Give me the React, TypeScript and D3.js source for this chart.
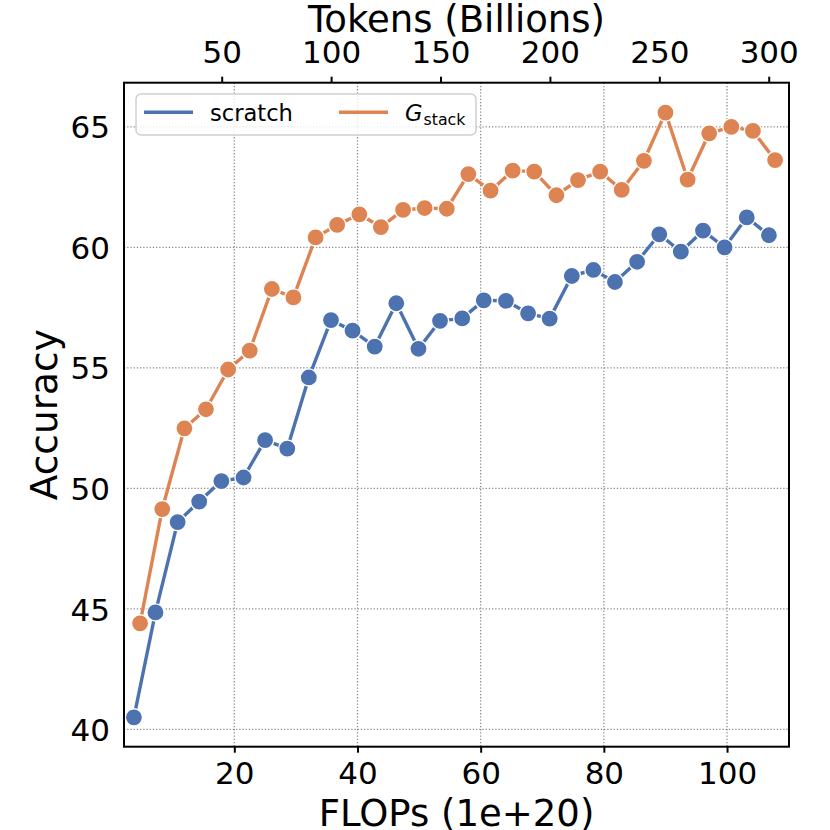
import React, { useEffect, useRef } from "react";
import * as d3 from "d3";

// FLOPs (1e+20) per checkpoint
const scratchFlops = [3.7, 7.2, 10.8, 14.3, 17.9, 21.5, 25.0, 28.6, 32.1, 35.7, 39.2, 42.8, 46.3, 49.9, 53.4, 57.0, 60.5, 64.1, 67.7, 71.2, 74.8, 78.3, 81.8, 85.4, 89.0, 92.5, 96.1, 99.6, 103.2, 106.8];
const scratchAcc = [40.5, 44.85, 48.6, 49.45, 50.3, 50.45, 52.0, 51.65, 54.6, 56.98, 56.54, 55.88, 57.68, 55.79, 56.95, 57.05, 57.8, 57.78, 57.26, 57.04, 58.81, 59.06, 58.56, 59.4, 60.54, 59.82, 60.69, 60.0, 61.24, 60.5];
const stackFlops = [4.7, 8.3, 11.9, 15.4, 19.0, 22.5, 26.1, 29.6, 33.2, 36.7, 40.3, 43.8, 47.4, 50.9, 54.5, 58.0, 61.6, 65.2, 68.7, 72.3, 75.8, 79.4, 82.9, 86.5, 90.0, 93.6, 97.1, 100.7, 104.2, 107.8];
const stackAcc = [44.4, 49.14, 52.49, 53.28, 54.93, 55.71, 58.27, 57.92, 60.41, 60.93, 61.37, 60.84, 61.55, 61.63, 61.6, 63.04, 62.35, 63.18, 63.14, 62.16, 62.79, 63.14, 62.38, 63.59, 65.59, 62.81, 64.73, 65.0, 64.83, 63.62];

const flopTicks = [20, 40, 60, 80, 100];
const tokenTicks = [50, 100, 150, 200, 250, 300];
const accTicks = [40, 45, 50, 55, 60, 65];

const seriesColors = ["#4C72B0", "#DD8452"];

interface Pt {
  x: number;
  y: number;
}

export default function App() {
  const svgRef = useRef<SVGSVGElement | null>(null);

  useEffect(() => {
    if (!svgRef.current) return;
    d3.select(svgRef.current).selectAll("*").remove();

    const W = 830;
    const H = 830;
    const margin = { top: 82.7, right: 41, bottom: 83.3, left: 124 };
    const width = W - margin.left - margin.right;
    const height = H - margin.top - margin.bottom;
    const font = "DejaVu Sans";

    const svg = d3.select(svgRef.current)
      .attr("width", W)
      .attr("height", H)
      .attr("viewBox", `0 0 ${W} ${H}`);

    svg.append("rect").attr("width", W).attr("height", H).attr("fill", "#fff");

    const g = svg.append("g").attr("transform", `translate(${margin.left},${margin.top})`);

    const x = d3.scaleLinear().domain([2.09, 110.06]).range([0, width]);
    const xTop = d3.scaleLinear().domain([5.35, 309.27]).range([0, width]);
    const y = d3.scaleLinear().domain([39.28, 66.83]).range([height, 0]);

    // grid (dotted)
    g.append("g")
      .selectAll("line")
      .data(flopTicks)
      .join("line")
      .attr("x1", (d) => x(d))
      .attr("x2", (d) => x(d))
      .attr("y1", 0)
      .attr("y2", height)
      .attr("stroke", "#8c8c8c")
      .attr("stroke-width", 1.3)
      .attr("stroke-dasharray", "1.3 1.9");

    g.append("g")
      .selectAll("line")
      .data(accTicks)
      .join("line")
      .attr("x1", 0)
      .attr("x2", width)
      .attr("y1", (d) => y(d))
      .attr("y2", (d) => y(d))
      .attr("stroke", "#8c8c8c")
      .attr("stroke-width", 1.3)
      .attr("stroke-dasharray", "1.3 1.9");

    // series
    const series: Pt[][] = [
      scratchFlops.map((f, i) => ({ x: f, y: scratchAcc[i] })),
      stackFlops.map((f, i) => ({ x: f, y: stackAcc[i] })),
    ];

    const line = d3.line<Pt>()
      .x((d) => x(d.x))
      .y((d) => y(d.y));

    series.forEach((pts, si) => {
      g.append("path")
        .datum(pts)
        .attr("fill", "none")
        .attr("stroke", seriesColors[si])
        .attr("stroke-width", 3.4)
        .attr("stroke-linejoin", "round")
        .attr("d", line);

      g.append("g")
        .selectAll("circle")
        .data(pts)
        .join("circle")
        .attr("cx", (d) => x(d.x))
        .attr("cy", (d) => y(d.y))
        .attr("r", 8.6)
        .attr("fill", seriesColors[si])
        .attr("stroke", "#fff")
        .attr("stroke-width", 1.4);
    });

    // legend
    const lg = svg.append("g");
    lg.append("rect")
      .attr("x", 136)
      .attr("y", 94)
      .attr("width", 340)
      .attr("height", 41)
      .attr("rx", 5)
      .attr("fill", "#fff")
      .attr("fill-opacity", 0.8)
      .attr("stroke", "#d0d0d0")
      .attr("stroke-width", 1.5);

    lg.append("line")
      .attr("x1", 144).attr("x2", 193)
      .attr("y1", 112.3).attr("y2", 112.3)
      .attr("stroke", seriesColors[0])
      .attr("stroke-width", 3.6);
    lg.append("text")
      .attr("x", 210)
      .attr("y", 121)
      .attr("font-family", font)
      .attr("font-size", 22.6)
      .attr("fill", "#000")
      .text("scratch");

    lg.append("line")
      .attr("x1", 339).attr("x2", 388)
      .attr("y1", 112.3).attr("y2", 112.3)
      .attr("stroke", seriesColors[1])
      .attr("stroke-width", 3.6);
    const gt = lg.append("text")
      .attr("x", 405)
      .attr("y", 121)
      .attr("font-family", font)
      .attr("font-size", 22.6)
      .attr("fill", "#000");
    gt.append("tspan").attr("font-style", "italic").text("G");
    gt.append("tspan").attr("font-size", 15.8).attr("dy", 4).attr("dx", 1).text("stack");

    // axes
    const xAxis = g.append("g")
      .attr("transform", `translate(0,${height})`)
      .call(d3.axisBottom(x).tickValues(flopTicks).tickSize(6).tickFormat((d) => `${d}`));
    const xTopAxis = g.append("g")
      .call(d3.axisTop(xTop).tickValues(tokenTicks).tickSize(6).tickFormat((d) => `${d}`));
    const yAxis = g.append("g")
      .call(d3.axisLeft(y).tickValues(accTicks).tickSize(0).tickFormat((d) => `${d}`));

    [xAxis, xTopAxis, yAxis].forEach((a) => {
      a.select(".domain").remove();
      a.selectAll(".tick line").attr("stroke", "#000").attr("stroke-width", 2);
      a.selectAll("text")
        .attr("font-family", font)
        .attr("font-size", 31)
        .attr("fill", "#000");
    });
    xAxis.selectAll("text").attr("y", 37.3).attr("dy", 0);
    xTopAxis.selectAll("text").attr("y", -19.7).attr("dy", 0);
    yAxis.selectAll("text").attr("x", -14).attr("dy", "0.36em");

    // frame
    g.append("rect")
      .attr("width", width)
      .attr("height", height)
      .attr("fill", "none")
      .attr("stroke", "#000")
      .attr("stroke-width", 2);

    // titles
    svg.append("text")
      .attr("x", margin.left + width / 2)
      .attr("y", 826)
      .attr("text-anchor", "middle")
      .attr("font-family", font)
      .attr("font-size", 37)
      .attr("fill", "#000")
      .text("FLOPs (1e+20)");

    svg.append("text")
      .attr("x", margin.left + width / 2)
      .attr("y", 31.7)
      .attr("text-anchor", "middle")
      .attr("font-family", font)
      .attr("font-size", 37)
      .attr("fill", "#000")
      .text("Tokens (Billions)");

    svg.append("text")
      .attr("transform", `translate(57,${margin.top + height / 2}) rotate(-90)`)
      .attr("text-anchor", "middle")
      .attr("font-family", font)
      .attr("font-size", 37.5)
      .attr("fill", "#000")
      .text("Accuracy");
  }, []);

  return (
    <div style={{ position: "absolute", left: 0, top: 0 }}>
      <svg ref={svgRef} style={{ display: "block" }} />
    </div>
  );
}
